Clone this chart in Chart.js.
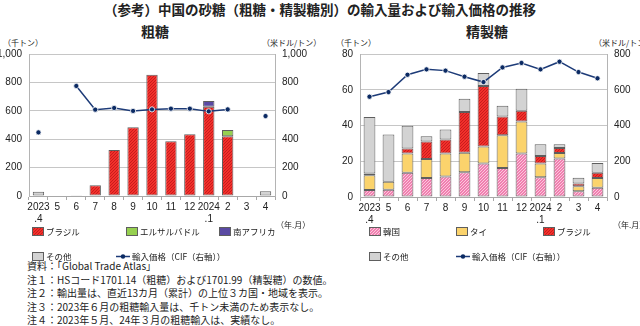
<!DOCTYPE html>
<html lang="ja">
<head>
<meta charset="utf-8">
<script src="https://cdn.jsdelivr.net/npm/chart.js@4.4.1/dist/chart.umd.min.js"></script>
<style>
  body { margin: 0; background: #fff; }
  #page { position: relative; width: 640px; height: 326px; overflow: hidden;
          font-family: "Noto Sans CJK JP", "Noto Sans", sans-serif; color: #222; }
  .txt { position: absolute; white-space: nowrap; line-height: 1; }
  .title { font-size: 13.5px; font-weight: bold; left: 0; width: 640px; text-align: center; top: 3px; }
  .sub { font-size: 14px; font-weight: bold; top: 24px; }
  .unit { font-size: 8px; top: 39px; }
  .box { position: absolute; width: 320px; height: 185px; top: 40px; }
  .leg { position: absolute; display: flex; align-items: center; font-size: 8.5px; white-space: nowrap; }
  .leg canvas { margin-right: 2px; }
  .note { position: absolute; left: 27px; font-size: 10px; line-height: 13.5px; top: 259px; }
</style>
</head>
<body>
<div id="page">
  <div class="txt title">（参考）中国の砂糖（粗糖・精製糖別）の輸入量および輸入価格の推移</div>
  <div class="txt sub" style="left:141px">粗糖</div>
  <div class="txt sub" style="left:466px">精製糖</div>

  <div class="txt unit" style="left:3px">（千トン）</div>
  <div class="txt unit" style="left:262px">（米ドル/トン）</div>
  <div class="txt unit" style="left:336px">（千トン）</div>
  <div class="txt unit" style="left:594px">（米ドル/トン）</div>

  <div class="box" style="left:0"><canvas id="rawChart"></canvas></div>
  <div class="box" style="left:320px"><canvas id="refChart"></canvas></div>

  <div class="txt unit" style="left:276px;top:221px">（年.月）</div>
  <div class="txt unit" style="left:613px;top:221px">（年.月）</div>

  <div class="note">資料：「Global Trade Atlas」<br>注１：HSコード1701.14（粗糖）および1701.99（精製糖）の数値。<br>注２：輸出量は、直近13カ月（累計）の上位３カ国・地域を表示。<br>注３：2023年６月の粗糖輸入量は、千トン未満のため表示なし。<br>注４：2023年５月、24年３月の粗糖輸入は、実績なし。</div>
</div>

<script>
const months = [['2023', '.4'], '5', '6', '7', '8', '9', '10', '11', '12', ['2024', '.1'], '2', '3', '4'];

// 粗糖 import volume (thousand t) and price (USD/t)
const rawBrazil = [null, null, null, 75, 324, 484, 854, 385, 434, 629, 420, null, null];
const rawElSalvador = [null, null, null, null, null, null, null, null, null, null, 45, null, null];
const rawSouthAfrica = [null, null, null, null, null, null, null, null, null, 40, null, null, null];
const rawOther = [30, null, 2, null, null, null, null, null, null, null, null, null, 33];
const rawPrice = [448, null, 775, 608, 620, 599, 610, 615, 615, 596, 610, null, 563];

// 精製糖 import volume (thousand t) and price (USD/t)
const refKorea = [3.9, 4.0, 13.6, 10.6, 11.4, 13.8, 18.7, 16.2, 24.4, 11.0, 21.6, 3.2, 5.2];
const refThai = [8.3, 4.6, 10.7, 10.7, 13.0, 11.0, 9.5, 18.3, 17.8, 7.8, 3.0, 2.8, 5.4];
const refBrazil = [0.9, null, 2.9, 9.7, 7.7, 22.8, 33.9, 10.5, 6.1, 4.1, 2.8, 1.6, 3.0];
const refOther = [31.6, 26.4, 12.7, 3.0, 5.6, 7.3, 7.3, 6.1, 12.3, 6.6, 2.1, 3.2, 5.4];
const refPrice = [561, 587, 684, 714, 707, 673, 643, 725, 750, 714, 757, 699, 664];

const rawTicks = [0, 200, 400, 600, 800, 1000];
const refTicks = [0, 20, 40, 60, 80];
const refPriceTicks = [0, 200, 400, 600, 800];

// dotted fills like the spreadsheet's patterned bars
function dots(base, dot) {
    const c = document.createElement('canvas');
    c.width = 3; c.height = 3;
    const g = c.getContext('2d');
    g.fillStyle = base;
    g.fillRect(0, 0, 3, 3);
    g.fillStyle = dot;
    g.fillRect(0, 0, 1, 1);
    g.fillRect(2, 1, 1, 1);
    g.fillRect(1, 2, 1, 1);
    return g.createPattern(c, 'repeat');
}

const RED = dots('#f2302b', '#c81c1c');
const PINK = dots('#f07fb0', '#fbc8dc');
const YELLOW = '#fbd36c';
const GREEN = '#96d050';
const PURPLE = '#5a4aa3';
const GRAY = '#d3d3d3';
const LINE = '#1d3b78';
const EDGE = '#5e5e5e';

const tickFont = { family: 'Liberation Sans, Arial, sans-serif', size: 10 };
const fmt = v => v.toLocaleString('en-US');

function bar(label, data, fill) {
    return {
        type: 'bar', label: label, data: data, backgroundColor: fill,
        borderColor: EDGE, borderWidth: 1, borderSkipped: false,
        yAxisID: 'y', order: 1
    };
}

function priceLine(data) {
    return {
        type: 'line', label: '輸入価格（CIF（右軸））', data: data, yAxisID: 'y1',
        borderColor: LINE, borderWidth: 1.5, spanGaps: false,
        pointRadius: 2.6, pointBackgroundColor: '#0b2a63',
        pointBorderColor: '#ffffff', pointBorderWidth: 0.8, order: 0
    };
}

function makeOptions(leftW, rightW, xH, yMax, yTicks, y1Max, y1Ticks, barPct) {
    return {
        responsive: false, animation: false,
        layout: { autoPadding: false, padding: { top: 14, left: 0, right: 0, bottom: 0 } },
        plugins: { legend: { display: false }, tooltip: { enabled: false } },
        datasets: { bar: { categoryPercentage: 1, barPercentage: barPct } },
        scales: {
            x: {
                stacked: true,
                grid: { offset: true, drawOnChartArea: false, tickLength: 4, color: '#a8a8a8' },
                border: { color: '#a8a8a8' },
                ticks: { font: tickFont, color: '#222', padding: 1, maxRotation: 0, autoSkip: false },
                afterFit: s => { s.height = xH; }
            },
            y: {
                stacked: true, min: 0, max: yMax,
                grid: { color: '#c6c6c6', drawTicks: false },
                border: { color: '#b4b4b4' },
                afterBuildTicks: s => { s.ticks = yTicks.map(v => ({ value: v })); },
                ticks: { font: tickFont, color: '#222', padding: 7, callback: fmt },
                afterFit: s => { s.width = leftW; }
            },
            y1: {
                position: 'right', min: 0, max: y1Max,
                grid: { display: false, drawTicks: false },
                border: { color: '#b4b4b4' },
                afterBuildTicks: s => { s.ticks = y1Ticks.map(v => ({ value: v })); },
                ticks: { font: tickFont, color: '#222', padding: 7, callback: fmt },
                afterFit: s => { s.width = rightW; }
            }
        }
    };
}

const rawCanvas = document.getElementById('rawChart');
rawCanvas.width = 320; rawCanvas.height = 185;
new Chart(rawCanvas, {
    data: {
        labels: months,
        datasets: [
            bar('ブラジル', rawBrazil, RED),
            bar('エルサルバドル', rawElSalvador, GREEN),
            bar('南アフリカ', rawSouthAfrica, PURPLE),
            bar('その他', rawOther, GRAY),
            priceLine(rawPrice)
        ]
    },
    options: makeOptions(29, 45, 29, 1000, rawTicks, 1000, rawTicks, 0.6)
});

const refCanvas = document.getElementById('refChart');
refCanvas.width = 320; refCanvas.height = 185;
new Chart(refCanvas, {
    data: {
        labels: months,
        datasets: [
            bar('韓国', refKorea, PINK),
            bar('タイ', refThai, YELLOW),
            bar('ブラジル', refBrazil, RED),
            bar('その他', refOther, GRAY),
            priceLine(refPrice)
        ]
    },
    options: makeOptions(40, 33, 28, 80, refTicks, 800, refPriceTicks, 0.62)
});

// legend swatches
function swatch(fill) {
    const c = document.createElement('canvas');
    c.width = 12; c.height = 9;
    const g = c.getContext('2d');
    g.fillStyle = fill;
    g.fillRect(0, 0, 12, 9);
    g.strokeStyle = EDGE;
    g.strokeRect(0.5, 0.5, 11, 8);
    return c;
}

function lineMark() {
    const c = document.createElement('canvas');
    c.width = 14; c.height = 9;
    const g = c.getContext('2d');
    g.strokeStyle = LINE;
    g.lineWidth = 1.5;
    g.beginPath(); g.moveTo(0, 4.5); g.lineTo(14, 4.5); g.stroke();
    g.fillStyle = '#0b2a63';
    g.beginPath(); g.arc(7, 4.5, 2.2, 0, Math.PI * 2); g.fill();
    return c;
}

function addLegend(items) {
    const page = document.getElementById('page');
    items.forEach(it => {
        const d = document.createElement('div');
        d.className = 'leg';
        d.style.left = it[0] + 'px';
        d.style.top = it[1] + 'px';
        d.appendChild(it[3] ? swatch(it[3]) : lineMark());
        d.appendChild(document.createTextNode(it[2]));
        page.appendChild(d);
    });
}

addLegend([
    [32, 225, 'ブラジル', RED],
    [126, 225, 'エルサルバドル', GREEN],
    [219, 225, '南アフリカ', PURPLE],
    [32, 250, 'その他', GRAY],
    [116, 250, '輸入価格（CIF（右軸））', null],
    [369, 225, '韓国', PINK],
    [456, 225, 'タイ', YELLOW],
    [543, 225, 'ブラジル', RED],
    [369, 250, 'その他', GRAY],
    [456, 250, '輸入価格（CIF（右軸））', null]
]);
</script>
</body>
</html>
